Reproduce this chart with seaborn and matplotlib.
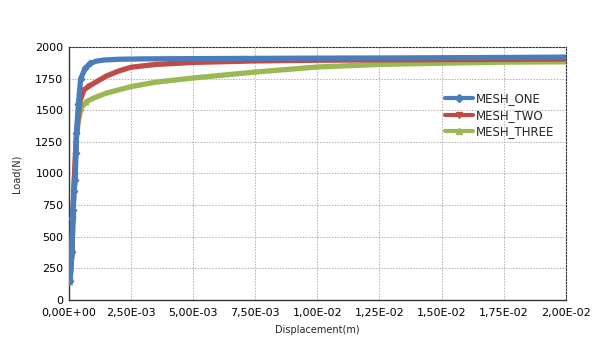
import numpy as np
import pandas as pd
import seaborn as sns
import matplotlib
matplotlib.use("Agg")
import matplotlib.pyplot as plt
from matplotlib.lines import Line2D
from matplotlib.ticker import FuncFormatter, MultipleLocator

# Data
x_one = [0.00004, 0.00012, 0.00014, 0.00016, 0.0002, 0.00025, 0.00028, 0.0003, 0.00038,
         0.00047, 0.00065, 0.00085, 0.0011, 0.0014, 0.002, 0.003, 0.005, 0.0075, 0.01, 0.0125,
         0.015, 0.0175, 0.02]
y_one = [150, 380, 650, 710, 860, 950, 1160, 1320, 1550,
         1750, 1830, 1870, 1888, 1897, 1903, 1906, 1908, 1910, 1912, 1913,
         1915, 1917, 1920]

x_two = [0.00004, 0.00012, 0.00016, 0.0002, 0.00026, 0.0003, 0.00038, 0.00045, 0.0006,
         0.0008, 0.001, 0.0015, 0.002, 0.0025, 0.0035, 0.005, 0.0075, 0.01, 0.0125, 0.015,
         0.0175, 0.02]
y_two = [150, 380, 650, 900, 1150, 1300, 1480, 1580, 1660,
         1690, 1713, 1770, 1810, 1840, 1862, 1878, 1890, 1895, 1898, 1900,
         1902, 1905]

x_three = [0.00004, 0.00012, 0.00016, 0.0002, 0.00026, 0.0003, 0.00038, 0.0005, 0.0007,
           0.001, 0.0015, 0.0025, 0.0035, 0.005, 0.0075, 0.01, 0.0125, 0.015, 0.0175, 0.02]
y_three = [140, 370, 640, 880, 1120, 1280, 1420, 1520, 1568,
           1597, 1635, 1687, 1722, 1755, 1802, 1842, 1862, 1872, 1880, 1883]

series_names = ["MESH_ONE", "MESH_TWO", "MESH_THREE"]
colors = ["#4a7ebb", "#be4b48", "#98b954"]
markers = ["D", "v", "^"]

frames = []
for name, xs, ys in zip(series_names, [x_one, x_two, x_three], [y_one, y_two, y_three]):
    frames.append(pd.DataFrame({"Displacement": xs, "Load": ys, "Series": name}))
df = pd.concat(frames, ignore_index=True)

sns.set_style("white")
plt.rcParams['font.family'] = ['DejaVu Sans']

fig = plt.figure(figsize=(6, 3.43), dpi=100)
ax = fig.add_axes([0.115, 0.1254, 0.828, 0.7376])

for name, c, m, z in reversed(list(zip(series_names, colors, markers, [5, 4, 3]))):
    sub = df[df["Series"] == name]
    every = [i for i, v in enumerate(sub["Displacement"].values) if v < 0.0009]
    sns.lineplot(data=sub, x="Displacement", y="Load", ax=ax, color=c, linewidth=3.8,
                 marker=m, markersize=3.5, markeredgecolor=c, markevery=every,
                 sort=False, zorder=z, legend=False)

ax.set_xlim(0, 0.02)
ax.set_ylim(0, 2000)
ax.xaxis.set_major_locator(MultipleLocator(0.0025))
ax.yaxis.set_major_locator(MultipleLocator(250))

def fmt_x(v, pos):
    s = "%.2E" % v
    return s.replace(".", ",")
ax.xaxis.set_major_formatter(FuncFormatter(fmt_x))

ax.grid(True, color="#b0b0b0", linestyle=(0, (1.5, 1.5)), linewidth=0.7)
ax.set_axisbelow(True)

for side in ["left", "bottom"]:
    ax.spines[side].set_color("#333333")
    ax.spines[side].set_linewidth(1.0)
for side in ["top", "right"]:
    ax.spines[side].set_visible(True)
    ax.spines[side].set_color("#333333")
    ax.spines[side].set_linestyle((0, (1.5, 1.5)))
    ax.spines[side].set_linewidth(0.8)

ax.tick_params(axis="both", labelsize=8, length=0, colors="#000000")
ax.tick_params(axis="x", pad=6)
ax.tick_params(axis="y", pad=4)
ax.set_xlabel("Displacement(m)", fontsize=7, labelpad=5)
ax.set_ylabel("Load(N)", fontsize=7, labelpad=10)

handles = [Line2D([0], [0], color=c, linewidth=3, marker=m, markersize=4,
                  markeredgecolor=c) for c, m in zip(colors, markers)]
leg = ax.legend(handles, series_names, loc="center left", bbox_to_anchor=(0.745, 0.73),
                frameon=False, fontsize=8.5, handlelength=2.4, handletextpad=0.25,
                labelspacing=0.3, borderpad=0, numpoints=1)

fig.savefig("out.png", dpi=100)
